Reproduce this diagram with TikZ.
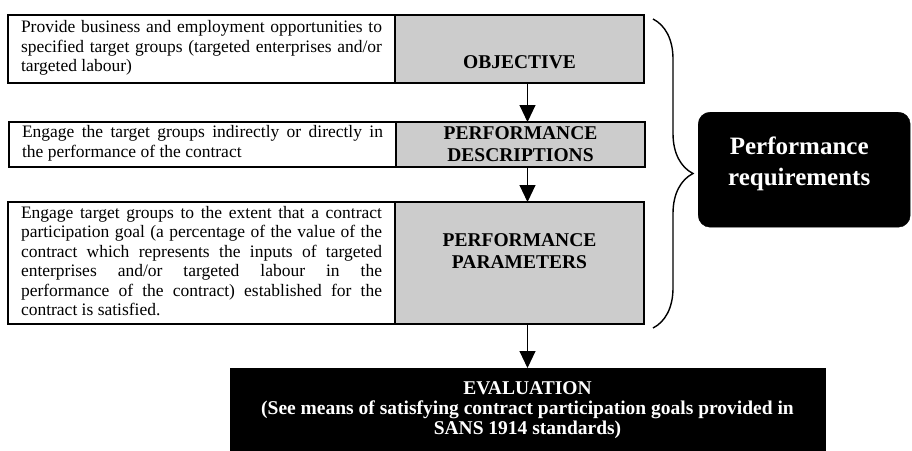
\documentclass[tikz,border=0pt]{standalone}
\usepackage{fontspec}
\setmainfont{Liberation Serif}
\usetikzlibrary{arrows.meta,decorations.pathreplacing,calc}
\definecolor{boxgray}{RGB}{204,204,204}
\hyphenpenalty=10000
\exhyphenpenalty=10000
\hbadness=10000
\begin{document}
\begin{tikzpicture}[x=1pt,y=-1pt,
  box/.style={draw=black, line width=1.5pt, inner sep=0pt, outer sep=0pt, anchor=north west},
  txtbox/.style={box, fill=white},
  graybox/.style={box, fill=boxgray},
  body/.style={font=\fontsize{17.5}{19.5}\selectfont, text width=361pt, align=justify, inner sep=0pt},
  lbl/.style={font=\fontsize{19.5}{22}\selectfont\bfseries, align=center, inner sep=0pt},
  flow/.style={line width=1pt, -{Triangle[width=16pt,length=17pt]}},
  evbox/.style={fill=black, draw=black, inner sep=0pt, outer sep=0pt, anchor=north west},
  evtext/.style={font=\fontsize{19.5}{20}\selectfont\bfseries, text=white, align=center, inner sep=0pt},
  prbox/.style={fill=black, draw=black, rounded corners=12pt, inner sep=0pt, anchor=north west},
  prtext/.style={font=\fontsize{25}{31}\selectfont\bfseries, text=white, align=center, inner sep=0pt},
  bracestyle/.style={line width=1.4pt, decorate, decoration={brace, amplitude=40pt}}]
\useasboundingbox (0,0) rectangle (912,450);

% row 1
\node[txtbox, minimum width=387pt, minimum height=68pt] (w1) at (8,15) {};
\node[graybox, minimum width=249pt, minimum height=68pt] (g1) at (395,15) {};
\node[body] (t1) at ($(w1.center)+(0,-1)$) {Provide business and employment opportunities to\linebreak specified target groups (targeted enterprises and/or\linebreak targeted labour)};
\node[lbl] (l1) at ($(g1.south)+(0,-21)$) {OBJECTIVE};

% row 2
\node[txtbox, minimum width=387pt, minimum height=45pt] (w2) at (9,122) {};
\node[graybox, minimum width=249pt, minimum height=45pt] (g2) at (396,122) {};
\node[body] (t2) at ($(w2.center)+(0,-1)$) {Engage the target groups indirectly or directly in\linebreak the performance of the contract};
\node[lbl] (l2) at (g2.center) {PERFORMANCE\\DESCRIPTIONS};

% row 3
\node[txtbox, minimum width=387pt, minimum height=122pt] (w3) at (8,202) {};
\node[graybox, minimum width=249pt, minimum height=122pt] (g3) at (395,202) {};
\node[body] (t3) at ($(w3.center)+(0,-2)$) {Engage target groups to the extent that a contract\linebreak participation goal (a percentage of the value of the\linebreak contract which represents the inputs of targeted\linebreak enterprises and/or targeted labour in the\linebreak performance of the contract) established for the\linebreak contract is satisfied.};
\node[lbl] (l3) at ($(g3.center)+(0,-11.5)$) {PERFORMANCE\\PARAMETERS};

% evaluation
\node[evbox, minimum width=595pt, minimum height=86pt] (ev) at (230,368) {};
\node[evtext] (evt) at ($(ev.north)+(0,42)$) {EVALUATION\\(See means of satisfying contract participation goals provided in\\SANS 1914 standards)};

% performance requirements
\node[prbox, minimum width=212pt, minimum height=115pt] (pr) at (698,112) {};
\node[prtext] (prt) at ($(pr.center)+(-5,-6)$) {Performance\\requirements};

% arrows
\draw[flow] (ev.north |- g1.south) -- (ev.north |- g2.north);
\draw[flow] (ev.north |- g2.south) -- (ev.north |- g3.north);
\draw[flow] (ev.north |- g3.south) -- (ev.north);

% brace
\coordinate (bt) at ($(g1.north east)+(9,4)$);
\coordinate (bb) at ($(g3.south east)+(9,4)$);
\draw[bracestyle] (bt) -- (bb);
\end{tikzpicture}
\end{document}
